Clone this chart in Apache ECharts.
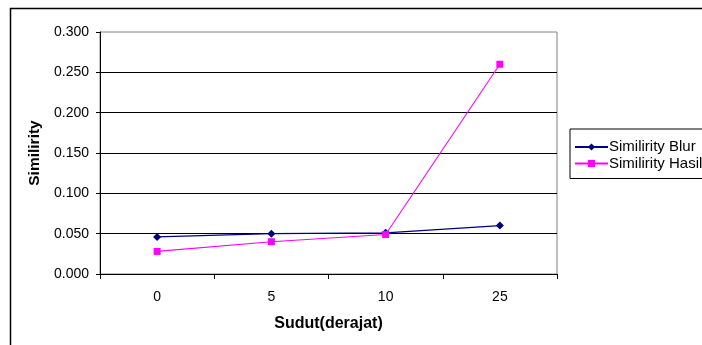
<!DOCTYPE html>
<html>
<head>
<meta charset="utf-8">
<script src="https://cdn.jsdelivr.net/npm/echarts@6/dist/echarts.min.js"></script>
<style>
  html, body { margin: 0; padding: 0; background: #fff; }
  #chart { width: 702px; height: 345px; }
</style>
</head>
<body>
<div id="chart"></div>
<script>
// Sudut rotasi (derajat) and similarity values for each method
const categories = ['0', '5', '10', '25'];
const similirityBlur = [0.046, 0.050, 0.051, 0.060];
const similirityHasil = [0.028, 0.040, 0.049, 0.260];
const seriesNames = ['Similirity Blur', 'Similirity Hasil'];

const FONT = '"Liberation Sans", Arial, sans-serif';

const chart = echarts.init(document.getElementById('chart'), null, { renderer: 'canvas' });

chart.setOption({
  backgroundColor: '#ffffff',
  animation: false,
  textStyle: { fontFamily: FONT },
  graphic: [
    {
      type: 'rect',
      shape: { x: 10.5, y: 8.5, width: 800, height: 400 },
      style: { fill: 'none', stroke: '#000', lineWidth: 1.5 },
      silent: true
    }
  ],
  grid: {
    left: 100, top: 32, right: 145, bottom: 71,
    show: true, borderColor: '#808080', borderWidth: 1, backgroundColor: 'transparent'
  },
  legend: {
    orient: 'vertical',
    left: 570, top: 129,
    padding: [10, 60, 7, 4],
    itemGap: 0.5,
    itemWidth: 33,
    itemHeight: 9,
    borderColor: '#000',
    borderWidth: 1,
    textStyle: {
      fontFamily: FONT, fontSize: 15, lineHeight: 16, color: '#000',
      padding: [0, 0, 0, -4]
    },
    data: seriesNames
  },
  xAxis: {
    type: 'category',
    data: categories,
    boundaryGap: true,
    name: 'Sudut(derajat)',
    nameLocation: 'middle',
    nameGap: 42,
    nameTextStyle: { fontFamily: FONT, fontSize: 16, fontWeight: 'bold', color: '#000' },
    axisLine: { lineStyle: { color: '#000', width: 1 } },
    axisTick: { show: true, length: 5, lineStyle: { color: '#000' } },
    axisLabel: { fontFamily: FONT, fontSize: 14, color: '#000', margin: 16 },
    splitLine: { show: false }
  },
  yAxis: {
    type: 'value',
    min: 0, max: 0.3, interval: 0.05,
    name: 'Similirity',
    nameLocation: 'middle',
    nameGap: 57,
    nameRotate: 90,
    nameTextStyle: { fontFamily: FONT, fontSize: 15.5, fontWeight: 'bold', color: '#000' },
    axisLine: { show: true, lineStyle: { color: '#000', width: 1 } },
    axisTick: { show: true, length: 4, lineStyle: { color: '#000' } },
    axisLabel: {
      fontFamily: FONT, fontSize: 14, color: '#000', margin: 11,
      formatter: v => v.toFixed(3)
    },
    splitLine: { show: true, showMaxLine: false, lineStyle: { color: '#000', width: 1 } }
  },
  series: [
    {
      name: seriesNames[0],
      type: 'line',
      data: similirityBlur,
      symbol: 'diamond',
      symbolSize: 8,
      lineStyle: { color: '#000080', width: 1.3 },
      itemStyle: { color: '#000080' },
      z: 3
    },
    {
      name: seriesNames[1],
      type: 'line',
      data: similirityHasil,
      symbol: 'rect',
      symbolSize: 7,
      lineStyle: { color: '#ff00ff', width: 1.1 },
      itemStyle: { color: '#ff00ff' },
      z: 4
    }
  ]
});
</script>
</body>
</html>
